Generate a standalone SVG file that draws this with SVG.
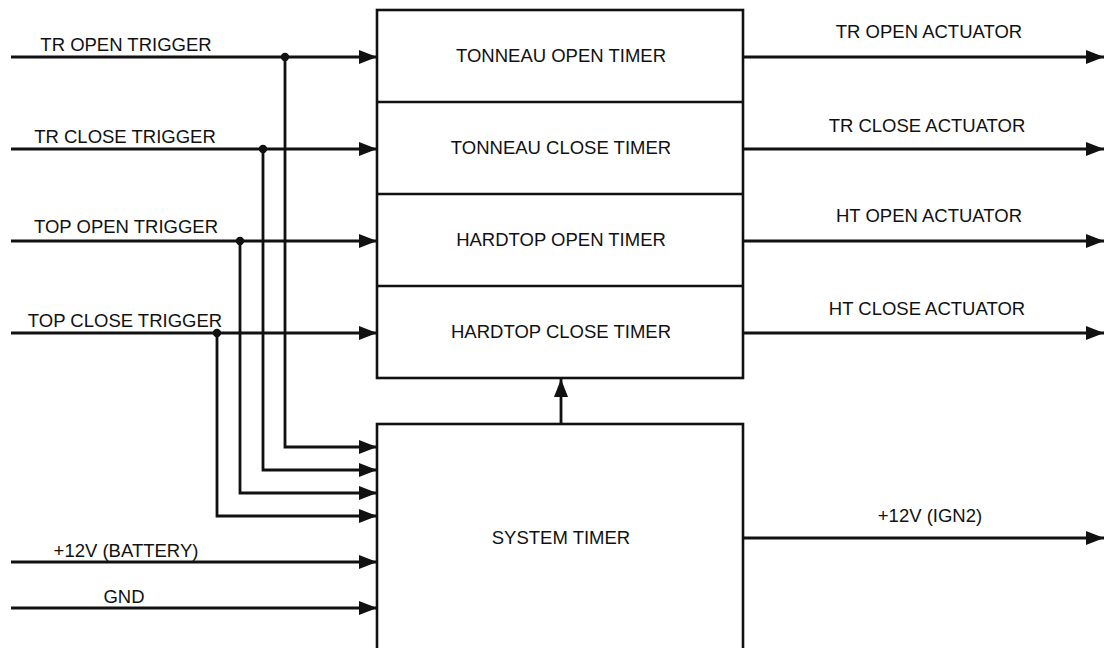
<svg xmlns="http://www.w3.org/2000/svg" width="1104" height="648" viewBox="0 0 1104 648">
<style>
  text { font-family: "Liberation Sans", Arial, sans-serif; font-size: 18.5px; fill: #111; }
  .box { fill: #fff; stroke: #111; stroke-width: 2.6; }
  .div { stroke: #111; stroke-width: 2.6; fill: none; }
  .wire { fill: none; stroke: #111; stroke-width: 2.8; }
  .lab { text-anchor: middle; }
</style>
<defs>
  <marker id="arr" viewBox="0 0 18 14" refX="18" refY="7" markerWidth="18" markerHeight="14" markerUnits="userSpaceOnUse" orient="auto">
    <path d="M0,0 L18,7 L0,14 z" fill="#111"/>
  </marker>
</defs>
<rect width="1104" height="648" fill="#fff"/>

<g id="timers">
  <rect class="box" x="377" y="10" width="366" height="368"/>
  <line class="div" x1="377" y1="102" x2="743" y2="102"/>
  <line class="div" x1="377" y1="194" x2="743" y2="194"/>
  <line class="div" x1="377" y1="286" x2="743" y2="286"/>
</g>
<g id="tonneau-open"><text class="lab" x="561" y="62">TONNEAU OPEN TIMER</text></g>
<g id="tonneau-close"><text class="lab" x="561" y="154">TONNEAU CLOSE TIMER</text></g>
<g id="hardtop-open"><text class="lab" x="561" y="246">HARDTOP OPEN TIMER</text></g>
<g id="hardtop-close"><text class="lab" x="561" y="338">HARDTOP CLOSE TIMER</text></g>
<g id="system-timer">
  <rect class="box" x="377" y="424" width="366" height="240"/>
  <text class="lab" x="561" y="544">SYSTEM TIMER</text>
</g>

<g id="connectors">
  <path class="wire" d="M11,57 H377" marker-end="url(#arr)"/>
  <path class="wire" d="M11,149 H377" marker-end="url(#arr)"/>
  <path class="wire" d="M11,241 H377" marker-end="url(#arr)"/>
  <path class="wire" d="M11,333 H377" marker-end="url(#arr)"/>
  <path class="wire" d="M285,57 V447 H377" marker-end="url(#arr)"/>
  <path class="wire" d="M263,149 V470 H377" marker-end="url(#arr)"/>
  <path class="wire" d="M240,241 V493 H377" marker-end="url(#arr)"/>
  <path class="wire" d="M217,333 V516 H377" marker-end="url(#arr)"/>
  <path class="wire" d="M11,562 H377" marker-end="url(#arr)"/>
  <path class="wire" d="M11,608 H377" marker-end="url(#arr)"/>
  <path class="wire" d="M743,57 H1104" marker-end="url(#arr)"/>
  <path class="wire" d="M743,149 H1104" marker-end="url(#arr)"/>
  <path class="wire" d="M743,241 H1104" marker-end="url(#arr)"/>
  <path class="wire" d="M743,333 H1104" marker-end="url(#arr)"/>
  <path class="wire" d="M743,538 H1104" marker-end="url(#arr)"/>
  <path class="wire" d="M561,424 V379" marker-end="url(#arr)"/>
  <circle cx="285" cy="57" r="4.2" fill="#111"/>
  <circle cx="263" cy="149" r="4.2" fill="#111"/>
  <circle cx="240" cy="241" r="4.2" fill="#111"/>
  <circle cx="217" cy="333" r="4.2" fill="#111"/>
</g>

<g id="labels">
  <text class="lab" x="126" y="51">TR OPEN TRIGGER</text>
  <text class="lab" x="125" y="143">TR CLOSE TRIGGER</text>
  <text class="lab" x="126" y="233">TOP OPEN TRIGGER</text>
  <text class="lab" x="125" y="327">TOP CLOSE TRIGGER</text>
  <text class="lab" x="126" y="557">+12V (BATTERY)</text>
  <text class="lab" x="124" y="603">GND</text>
  <text class="lab" x="929" y="38">TR OPEN ACTUATOR</text>
  <text class="lab" x="927" y="132">TR CLOSE ACTUATOR</text>
  <text class="lab" x="929" y="222">HT OPEN ACTUATOR</text>
  <text class="lab" x="927" y="315">HT CLOSE ACTUATOR</text>
  <text class="lab" x="930" y="522">+12V (IGN2)</text>
</g>
</svg>
